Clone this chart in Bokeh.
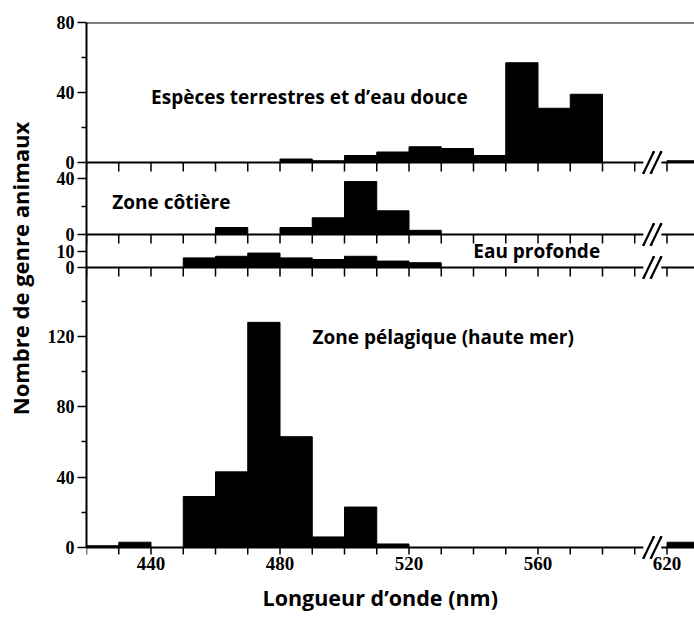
import math
from bokeh.plotting import figure
from bokeh.layouts import row, column
from bokeh.models import Range1d, FixedTicker, Label, Span, ColumnDataSource, LinearAxis, Title
from bokeh.embed import file_html
from bokeh.resources import INLINE

# ---------------- data ----------------
bin_starts = [420, 430, 440, 450, 460, 470, 480, 490, 500, 510, 520, 530, 540,
              550, 560, 570, 580, 590, 620]
terrestrial = [0, 0, 0, 0, 0, 0, 2, 1, 4, 6, 9, 8, 4, 57, 31, 39, 0, 0, 1]
coastal     = [0, 0, 0, 0, 5, 0, 5, 12, 38, 17, 3, 0, 0, 0, 0, 0, 0, 0, 0]
deep        = [0, 0, 0, 6, 7, 9, 6, 5, 7, 4, 3, 0, 0, 0, 0, 0, 0, 0, 0]
pelagic     = [1, 3, 0, 29, 43, 128, 63, 6, 23, 2, 0, 0, 0, 0, 0, 0, 0, 0, 3]

x_tick_values = [440, 480, 520, 560, 620]
x_tick_labels = ["440", "480", "520", "560", "620"]
panel_titles = ["Espèces terrestres et d’eau douce", "Zone côtière",
                "Eau profonde", "Zone pélagique (haute mer)"]
y_title = "Nombre de genre animaux"
x_title = "Longueur d’onde (nm)"

BIN = 10
BREAK_FROM, BREAK_TO = 600, 620   # omitted stretch of the wavelength axis


def disp(w):
    return w - (BREAK_TO - BREAK_FROM) if w >= BREAK_TO else w


TXT_FONT = "Open Sans"
NUM_FONT = "Liberation Serif"
W_TITLE = 40
W_PANELS = 654
LEFT = 46
FRAME_W = 608
PX_PER_NM = 3.225
OVER = 12
SLASH_X = [594.3, 596.6]
GAP_X = 595.45

x_range = Range1d(420, 420 + FRAME_W / PX_PER_NM)
tick_x = list(range(420, BREAK_FROM + 1, 10))
major_x = [disp(v) for v in x_tick_values]


def base_fig(y_end, frame_h, b_top, b_bottom, with_y=True):
    p = figure(width=W_PANELS, height=frame_h + b_top + b_bottom,
               x_range=x_range, y_range=Range1d(0, y_end),
               x_axis_location=None, y_axis_location="left" if with_y else None,
               output_backend="svg", toolbar_location=None,
               min_border_left=LEFT, min_border_right=0,
               min_border_top=b_top, min_border_bottom=b_bottom,
               background_fill_color=None, border_fill_color=None,
               outline_line_color=None)
    p.grid.visible = False
    return p


def style_y(p, major, minor):
    yax = p.yaxis[0]
    yax.ticker = FixedTicker(ticks=major, minor_ticks=minor)
    yax.axis_line_width = 2
    yax.major_tick_out = 9
    yax.major_tick_in = 0
    yax.minor_tick_out = 5
    yax.minor_tick_in = 0
    yax.major_tick_line_width = 1.5
    yax.minor_tick_line_width = 1.5
    yax.major_label_text_font = NUM_FONT
    yax.major_label_text_font_style = "bold"
    yax.major_label_text_font_size = "18px"
    yax.major_label_text_color = "black"
    yax.major_label_standoff = 3


def baseline_from_above(p, y_top):
    # baseline of the panel above (axis line) and its ticks hanging down
    ax = LinearAxis(ticker=FixedTicker(ticks=[], minor_ticks=[]),
                    axis_line_width=2, major_tick_in=0, major_tick_out=0,
                    minor_tick_in=0, minor_tick_out=0)
    p.add_layout(ax, "above")
    p.scatter(x=tick_x, y=[y_top] * len(tick_x), marker="dash", size=18,
              angle=math.pi / 2, line_color="black", line_width=1.5)


def break_mark(p, y):
    p.scatter(x=[GAP_X], y=[y], marker="square", size=18, fill_color="white",
              line_color=None, level="overlay")
    p.scatter(x=SLASH_X, y=[y, y], marker="dash", size=25, angle=1.12,
              line_color="black", line_width=2.2, level="overlay")


def bars(p, counts):
    left = [disp(b) for b in bin_starts]
    src = ColumnDataSource(dict(left=left, right=[l + BIN for l in left], top=counts))
    p.quad(left="left", right="right", bottom=0, top="top", source=src,
           fill_color="black", line_color="black", line_width=1)


def title_label(text, x, y, size="19px"):
    return Label(x=x, y=y, text=text, text_font=TXT_FONT, text_font_style="bold",
                 text_font_size=size, text_color="black",
                 text_align="center", text_baseline="middle")


# panel 1: terrestrial / fresh water
p1 = base_fig(80, 140, 22, OVER)
bars(p1, terrestrial)
style_y(p1, [0, 40, 80], [20, 60])
p1.add_layout(Span(location=80, dimension="width", line_color="black", line_width=2))
break_mark(p1, 0)
p1.add_layout(title_label(panel_titles[0], 489.1, 37.6))

# panel 2: coastal
Y2 = 51.7
p2 = base_fig(Y2, 72, OVER, OVER)
bars(p2, coastal)
style_y(p2, [0, 40], [20])
baseline_from_above(p2, Y2)
break_mark(p2, Y2)
break_mark(p2, 0)
p2.add_layout(title_label(panel_titles[1], 446.3, 23.3))

# panel 3: deep water
Y3 = 20.6
p3 = base_fig(Y3, 33, OVER, OVER)
bars(p3, deep)
style_y(p3, [0, 10], [])
baseline_from_above(p3, Y3)
break_mark(p3, Y3)
break_mark(p3, 0)
p3.add_layout(title_label(panel_titles[2], 559.6, 10.0))

# panel 4: pelagic
Y4 = 159.2
p4 = base_fig(Y4, 280, OVER, OVER)
bars(p4, pelagic)
style_y(p4, [0, 40, 80, 120], [20, 60, 100, 140])
baseline_from_above(p4, Y4)
break_mark(p4, Y4)
break_mark(p4, 0)
p4.add_layout(title_label(panel_titles[3], 530.6, 119.6))

# strip under the pelagic panel: its baseline, tick labels and x title
p5 = base_fig(1, 12, OVER, 60, with_y=False)
baseline_from_above(p5, 1)
break_mark(p5, 1)
xax = LinearAxis(ticker=FixedTicker(ticks=major_x, minor_ticks=[]),
                 axis_line_color=None, major_tick_in=0, major_tick_out=0,
                 minor_tick_in=0, minor_tick_out=0,
                 major_label_overrides={d: t for d, t in zip(major_x, x_tick_labels)},
                 major_label_text_font=NUM_FONT, major_label_text_font_style="bold",
                 major_label_text_font_size="19px", major_label_text_color="black",
                 major_label_standoff=2)
p5.add_layout(xax, "below")
p5.add_layout(Title(text=x_title, align="left", offset=176, standoff=16,
                    text_font=TXT_FONT, text_font_style="bold",
                    text_font_size="21.5px", text_color="black"), "below")

for p in (p2, p3, p4, p5):
    p.margin = (-2 * OVER, 0, 0, 0)

# y title
t = figure(width=W_TITLE, height=619, x_range=Range1d(0, W_TITLE),
           y_range=Range1d(619, 0), x_axis_location=None, y_axis_location=None,
           min_border=0, outline_line_color=None, toolbar_location=None,
           output_backend="svg", background_fill_color=None, border_fill_color=None)
t.grid.visible = False
t.add_layout(Label(x=19, y=268, text=y_title, angle=math.pi / 2,
                   text_font=TXT_FONT, text_font_style="bold", text_font_size="22px",
                   text_color="black", text_align="center", text_baseline="middle"))

layout = row(t, column(p1, p2, p3, p4, p5))
open("out.html", "w").write(file_html(layout, INLINE))
